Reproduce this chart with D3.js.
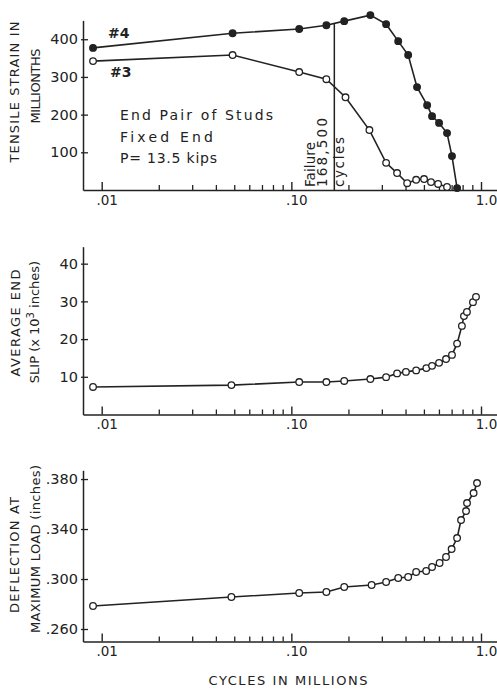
<!DOCTYPE html>
<html><head><meta charset="utf-8">
<script src="https://cdn.jsdelivr.net/npm/d3@7"></script>
<style>
body{margin:0;background:#fff}
svg{display:block}
text{font-family:"DejaVu Sans",sans-serif;fill:#222}
</style>
</head><body>
<svg id="chart" width="497" height="690"></svg>
<script>
// ---------- data ----------
// Cycles in millions
const stud4Cycles = [0.009, 0.049, 0.110, 0.153, 0.190, 0.261, 0.316, 0.366, 0.413, 0.460, 0.520, 0.552, 0.601, 0.662, 0.703, 0.748];
const stud4Strain = [377, 416, 427, 437, 448, 464, 440, 395, 358, 273, 225, 196, 178, 151, 90, 5];
const stud3Cycles = [0.009, 0.049, 0.110, 0.153, 0.193, 0.258, 0.316, 0.361, 0.408, 0.455, 0.501, 0.545, 0.594, 0.662];
const stud3Strain = [342, 358, 313, 294, 246, 159, 72, 45, 18, 27, 29, 21, 16, 8];

const slipCycles = [0.009, 0.0483, 0.110, 0.153, 0.190, 0.261, 0.316, 0.361, 0.402, 0.455, 0.515, 0.552, 0.601, 0.654, 0.703, 0.748, 0.793, 0.813, 0.843, 0.907, 0.941];
const slipValues = [7.3, 7.8, 8.6, 8.6, 8.9, 9.4, 9.9, 10.9, 11.3, 11.7, 12.3, 12.9, 13.7, 14.7, 15.8, 18.8, 23.5, 26.1, 27.2, 29.8, 31.2];

const deflCycles = [0.009, 0.0483, 0.110, 0.153, 0.190, 0.265, 0.316, 0.366, 0.413, 0.455, 0.514, 0.552, 0.605, 0.654, 0.700, 0.748, 0.785, 0.834, 0.844, 0.914, 0.953];
const deflValues = [0.2784, 0.2856, 0.2888, 0.2896, 0.2936, 0.2952, 0.2976, 0.3008, 0.3016, 0.3056, 0.3064, 0.3096, 0.3128, 0.3176, 0.3240, 0.3328, 0.3472, 0.3544, 0.3608, 0.3688, 0.3768];

const failureCycles = 0.1685;

const xMajorTicks = [0.01, 0.1, 1];
const xTickLabels = [".01", ".10", "1.0"];
const xMinorTicks = [0.02,0.03,0.04,0.05,0.06,0.07,0.08,0.09,0.2,0.3,0.4,0.5,0.6,0.7,0.8,0.9];

const strainTicks = [100, 200, 300, 400];
const slipTicks = [10, 20, 30, 40];
const deflTicks = [0.260, 0.300, 0.340, 0.380];
const deflTickLabels = [".260", ".300", ".340", ".380"];

const annotationLines = ["End  Pair  of  Studs", "Fixed  End", "P= 13.5  kips"];

// ---------- drawing ----------
const ink = "#222";
const svg = d3.select("#chart");
svg.append("rect").attr("width", 497).attr("height", 690).attr("fill", "#fff");

const x = d3.scaleLog().domain([0.01, 1]).range([101.7, 481]);
const xAxisScale = d3.scaleLog().domain([x.invert(83), x.invert(497)]).range([83, 497]);

const yStrain = d3.scaleLinear().domain([0, 450]).range([190, 20.4]);
const ySlip = d3.scaleLinear().domain([0, 44.5]).range([414.5, 246.7]);
const yDefl = d3.scaleLinear().domain([0.250, 0.387]).range([641.5, 470.3]);

function styleAxis(g, size) {
  g.attr("color", ink).attr("font-family", "DejaVu Sans").attr("font-size", size);
  g.selectAll("path, line").attr("stroke", ink).attr("stroke-width", 1.5);
}

function drawXAxis(y0) {
  const g = svg.append("g").attr("transform", `translate(0,${y0})`);
  g.call(d3.axisBottom(xAxisScale).tickValues(xMinorTicks).tickSize(-5).tickSizeOuter(0).tickFormat(""));
  styleAxis(g, 13);
  g.selectAll(".tick line").attr("stroke-width", 1.3);
  const g2 = svg.append("g").attr("transform", `translate(0,${y0})`);
  g2.call(d3.axisBottom(xAxisScale).tickValues(xMajorTicks).tickSize(-8).tickPadding(5)
    .tickFormat((d, i) => xTickLabels[i]));
  g2.select(".domain").remove();
  styleAxis(g2, 13.5);
  g2.selectAll(".tick line").attr("stroke-width", 1.4);
  g2.selectAll(".tick text").attr("dx", 5).attr("fill", ink);
}

function drawYAxis(scale, ticks, fmt) {
  const g = svg.append("g").attr("transform", "translate(83,0)");
  g.call(d3.axisLeft(scale).tickValues(ticks).tickSize(-5).tickPadding(5).tickSizeOuter(0).tickFormat(fmt));
  styleAxis(g, 14.5);
  g.selectAll(".tick line").attr("stroke-width", 1.3).attr("x1", -2);
  g.selectAll(".tick text").attr("fill", ink);
}

function drawSeries(yScale, xs, ys, filled) {
  const pts = xs.map((c, i) => [c, ys[i]]);
  svg.append("path").datum(pts)
    .attr("d", d3.line().x(d => x(d[0])).y(d => yScale(d[1])))
    .attr("fill", "none").attr("stroke", ink).attr("stroke-width", 1.6);
  svg.append("g").selectAll("circle").data(pts).join("circle")
    .attr("cx", d => x(d[0])).attr("cy", d => yScale(d[1]))
    .attr("r", 3.3)
    .attr("fill", filled ? ink : "#fff")
    .attr("stroke", ink).attr("stroke-width", 1.3);
}

function vText(xb, y, str, len, size, anchor) {
  const t = svg.append("text")
    .attr("transform", `translate(${xb},${y}) rotate(-90)`)
    .attr("text-anchor", anchor || "middle")
    .attr("font-size", size)
    .text(str);
  if (len) t.attr("textLength", len).attr("lengthAdjust", "spacing");
  return t;
}

// ----- panel 1: tensile strain -----
drawXAxis(190);
drawYAxis(yStrain, strainTicks, d => d);

// failure line: from the #4 curve down to the axis
(function () {
  const lc = Math.log10(failureCycles);
  let top = stud4Strain[0];
  for (let i = 0; i < stud4Cycles.length - 1; i++) {
    const a = Math.log10(stud4Cycles[i]), b = Math.log10(stud4Cycles[i + 1]);
    if (lc >= a && lc <= b) { top = stud4Strain[i] + (stud4Strain[i + 1] - stud4Strain[i]) * (lc - a) / (b - a); }
  }
  svg.append("line")
    .attr("x1", x(failureCycles)).attr("x2", x(failureCycles))
    .attr("y1", yStrain(top)).attr("y2", yStrain(0))
    .attr("stroke", ink).attr("stroke-width", 1.5);
})();

drawSeries(yStrain, stud3Cycles, stud3Strain, false);
drawSeries(yStrain, stud4Cycles, stud4Strain, true);

svg.append("text").attr("x", 108).attr("y", 38).attr("font-size", 14).attr("font-weight", "bold").text("#4");
svg.append("text").attr("x", 110).attr("y", 77).attr("font-size", 14).attr("font-weight", "bold").text("#3");

const annLens = [153, 93, 97];
annotationLines.forEach((s, i) => {
  svg.append("text").attr("x", 120).attr("y", 120 + i * 21.5).attr("font-size", 14)
    .attr("textLength", annLens[i]).attr("lengthAdjust", "spacing").text(s);
});

vText(315, 187, "Failure", 45, 13.5, "start");
vText(327, 187, "168,500", 69, 13.5, "start");
vText(344, 187, "cycles", 50, 13.5, "start");

vText(19, 92, "TENSILE STRAIN IN", 141, 13);
vText(40, 86, "MILLIONTHS", 75, 13);

// ----- panel 2: average end slip -----
drawXAxis(414.5);
drawYAxis(ySlip, slipTicks, d => d);
drawSeries(ySlip, slipCycles, slipValues, false);

vText(20, 323, "AVERAGE END", 107, 13);
(function () {
  const t = svg.append("text")
    .attr("transform", "translate(39,322) rotate(-90)")
    .attr("text-anchor", "middle").attr("font-size", 13);
  t.append("tspan").text("SLIP (x 10");
  t.append("tspan").attr("dy", -5).attr("font-size", 10).text("3");
  t.append("tspan").attr("dy", 5).text(" inches)");
})();

// ----- panel 3: deflection -----
drawXAxis(641.5);
drawYAxis(yDefl, deflTicks, (d, i) => deflTickLabels[i]);
drawSeries(yDefl, deflCycles, deflValues, false);

vText(19, 555, "DEFLECTION  AT", 116, 13);
vText(40, 549, "MAXIMUM LOAD (inches)", 168, 13);

svg.append("text").attr("x", 288).attr("y", 685).attr("text-anchor", "middle")
  .attr("font-size", 13).attr("textLength", 159).attr("lengthAdjust", "spacing")
  .text("CYCLES IN MILLIONS");
</script>
</body></html>
